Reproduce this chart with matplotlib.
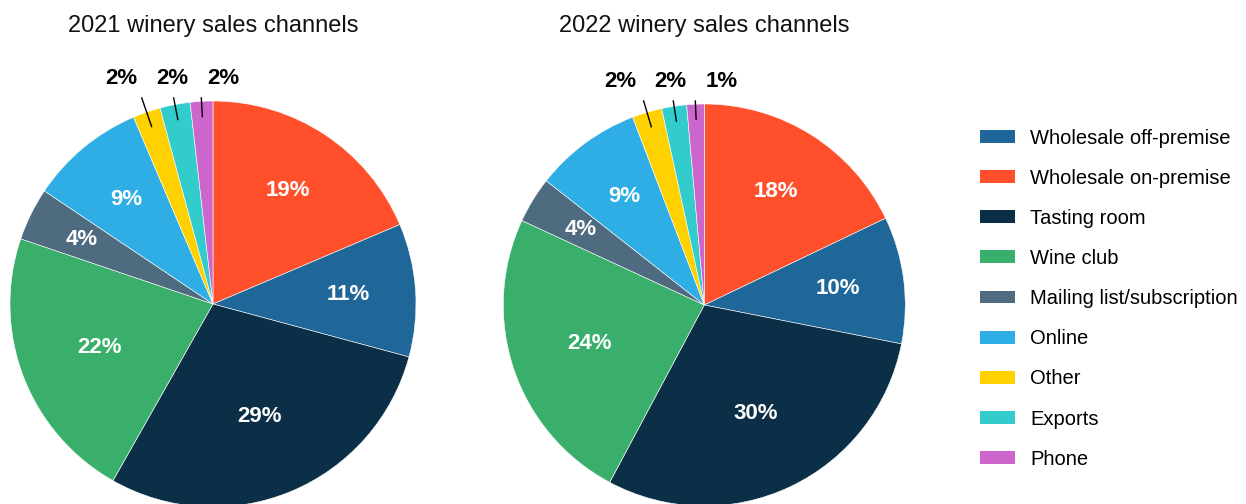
import matplotlib.pyplot as plt
from matplotlib.patches import Patch
import numpy as np

plt.rcParams['font.family'] = ['Liberation Sans', 'DejaVu Sans']

# slices in drawing order, clockwise from 12 o'clock
channels = ["Wholesale on-premise", "Wholesale off-premise", "Tasting room", "Wine club",
            "Mailing list/subscription", "Online", "Other", "Exports", "Phone"]
colors = ["#ff4f2b", "#1f6699", "#0b2f47", "#3aae6b",
          "#4f6b80", "#2eaee4", "#ffd100", "#33cccc", "#cc66cc"]

share_2021 = [18.6, 10.6, 29.0, 22.0, 4.2, 9.2, 2.2, 2.4, 1.8]
share_2022 = [17.9, 10.2, 29.7, 24.1, 3.7, 8.6, 2.4, 2.0, 1.4]

legend_order = ["Wholesale off-premise", "Wholesale on-premise", "Tasting room", "Wine club",
                "Mailing list/subscription", "Online", "Other", "Exports", "Phone"]

W, H = 1246, 504
fig = plt.figure(figsize=(W / 100, H / 100), dpi=100)


def pie_axes(cx, cy, r):
    # cx, cy, r in pixels, y measured from the top of the image
    return fig.add_axes([(cx - r) / W, (H - cy - r) / H, 2 * r / W, 2 * r / H])


def draw_pie(ax, shares, title):
    wedges, _ = ax.pie(shares, colors=colors, startangle=90, counterclock=False,
                       radius=1, wedgeprops=dict(edgecolor='white', linewidth=0.4))
    ax.set_xlim(-1, 1)
    ax.set_ylim(-1, 1)
    ax.set_aspect('equal')
    ax.axis('off')

    small = []
    for w, s in zip(wedges, shares):
        mid = np.deg2rad((w.theta1 + w.theta2) / 2)
        label = f"{s:.0f}%"
        if s < 3:
            small.append((mid, label))
            continue
        if s >= 20:
            rd = 0.6
        elif s >= 5:
            rd = 0.67
        else:
            rd = 0.72
        ax.text(rd * np.cos(mid), rd * np.sin(mid), label, ha='center', va='center',
                color='white', fontsize=16, fontweight='bold')

    # outside labels for the thin slices
    ends = []
    for mid, label in small:
        r_out = 1.015 / np.sin(mid)
        x0, y0 = 0.925 * np.cos(mid), 0.925 * np.sin(mid)
        x1, y1 = r_out * np.cos(mid), r_out * np.sin(mid)
        ax.plot([x0, x1], [y0, y1], color='black', linewidth=1, clip_on=False)
        ends.append((x1, label))
    ends.sort()
    xs = np.array([e[0] for e in ends])
    spread = xs.mean() + (np.arange(len(xs)) - (len(xs) - 1) / 2) * 0.253
    for x, (_, label) in zip(spread, ends):
        ax.text(x, 1.11, label, ha='center', va='center', color='black',
                fontsize=16, fontweight='bold', clip_on=False)

    pos = ax.get_position()
    fig.text(pos.x0 + pos.width / 2, 1 - 31.7 / H, title, ha='center', va='baseline',
             fontsize=17, color='#111111')


ax1 = pie_axes(213, 304, 203)
draw_pie(ax1, share_2021, "2021 winery sales channels")
ax2 = pie_axes(704.3, 305, 201)
draw_pie(ax2, share_2022, "2022 winery sales channels")

handles = [Patch(facecolor=colors[channels.index(name)], edgecolor='none', label=name)
           for name in legend_order]
fig.legend(handles=handles, loc='upper left', bbox_to_anchor=(980 / W, 1 - 128.5 / H),
           frameon=False, fontsize=14.5, handlelength=1.74, handleheight=0.6,
           handletextpad=0.75, labelspacing=1.05, borderpad=0, borderaxespad=0)

fig.savefig("out.png", dpi=100)
